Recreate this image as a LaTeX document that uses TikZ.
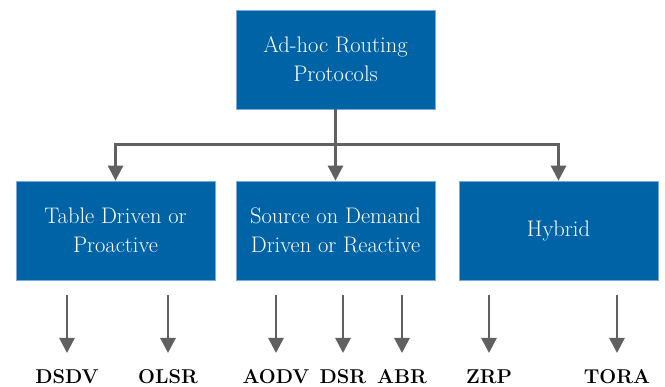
\documentclass[tikz,border=0pt]{standalone}
\usepackage{tikz}
\usetikzlibrary{arrows.meta}

\definecolor{boxblue}{RGB}{0,99,166}
\definecolor{boxedge}{RGB}{120,170,220}
\definecolor{arrgray}{RGB}{96,96,96}

\begin{document}
\begin{tikzpicture}[x=1pt,y=-1pt]
		\useasboundingbox (0,0) rectangle (665,387);
		\begin{scope}[every node/.style={rectangle,fill=boxblue,draw=boxedge,line width=0.7pt,
		              minimum width=199pt,minimum height=99pt,inner sep=0pt,align=center,
		              text=white,font=\fontsize{22.5}{29}\selectfont}]
		    \node (top) at (335.5,59.5) {Ad-hoc Routing\\Protocols};
		    \node (tab) at (115.5,230.5) {Table Driven or\\Proactive};
		    \node (src) at (335.5,230.5) {Source on Demand\\Driven or Reactive};
		    \node (hyb) at (558.5,230.5) {Hybrid};
		\end{scope}

		\begin{scope}[every node/.style={anchor=north,inner sep=0pt,text height=14pt,text depth=0pt,
		              font=\fontsize{20}{20}\selectfont\bfseries}]
		    \node (dsdv) at (67,369) {DSDV};
		    \node (olsr) at (168,369) {OLSR};
		    \node (aodv) at (276,369) {AODV};
		    \node (dsr) at (343,369) {DSR};
		    \node (abr) at (402,369) {ABR};
		    \node (zrp) at (489,369) {ZRP};
		    \node (tora) at (617,369) {TORA};
		\end{scope}

		% free starts of the lower arrows
		\coordinate (s1) at (67,295);
		\coordinate (s2) at (168,295);
		\coordinate (s3) at (276,295);
		\coordinate (s4) at (343,295);
		\coordinate (s5) at (402,295);
		\coordinate (s6) at (489,295);
		\coordinate (s7) at (617,295);

		\begin{scope}[>={Triangle[width=15pt,length=15pt]},
		              every path/.style={draw=arrgray,line width=2.7pt}]
		    \draw[->] (top.south) -- ++(0,35) -| (tab.north);
		    \draw[->] (top.south) -- ++(0,35) -| (hyb.north);
		    \draw[->] (top.south) -- (src.north);
		    \draw[->,shorten >=16pt] (s1) -- (dsdv.north);
		    \draw[->,shorten >=16pt] (s2) -- (olsr.north);
		    \draw[->,shorten >=16pt] (s3) -- (aodv.north);
		    \draw[->,shorten >=16pt] (s4) -- (dsr.north);
		    \draw[->,shorten >=16pt] (s5) -- (abr.north);
		    \draw[->,shorten >=16pt] (s6) -- (zrp.north);
		    \draw[->,shorten >=16pt] (s7) -- (tora.north);
		\end{scope}
\end{tikzpicture}
\end{document}
